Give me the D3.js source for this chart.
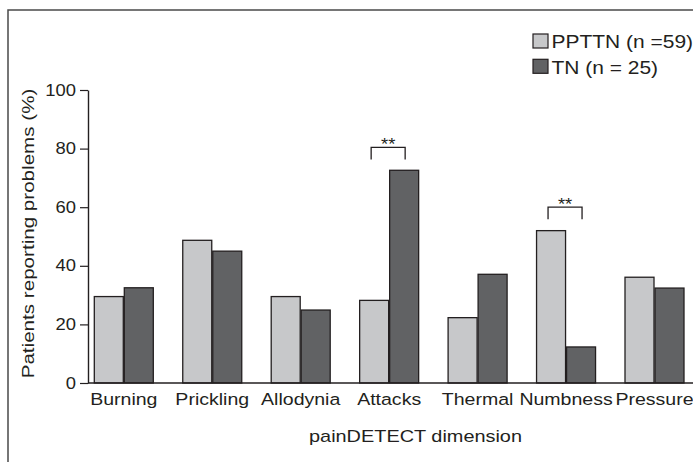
<!DOCTYPE html>
<html>
<head>
<meta charset="utf-8">
<script src="https://cdn.jsdelivr.net/npm/d3@7"></script>
<style>
  html, body { margin: 0; padding: 0; background: #fff; }
  svg { display: block; }
  text { font-family: "Liberation Sans", Arial, Helvetica, sans-serif; fill: #231f20; }
</style>
</head>
<body>
<svg id="chart" width="693" height="462"></svg>
<script>
const categories = ["Burning", "Prickling", "Allodynia", "Attacks", "Thermal", "Numbness", "Pressure"];
const seriesNames = ["PPTTN (n =59)", "TN (n = 25)"];
const ppttnValues = [29.5, 48.7, 29.5, 28.2, 22.3, 52.0, 36.1];
const tnValues = [32.5, 45.0, 24.9, 72.6, 37.1, 12.3, 32.4];
const yTicks = [0, 20, 40, 60, 80, 100];
const significance = [
  { category: "Attacks", level: 80.4, label: "**" },
  { category: "Numbness", level: 60, label: "**" }
];
const xTitle = "painDETECT dimension";
const yTitle = "Patients reporting problems (%)";
const colors = ["#c7c8ca", "#616264"];

const svg = d3.select("#chart");
const W = 693, H = 462;
const axisX = 88, baseY = 383, topY = 90;
const SX = 1.15;           // horizontal glyph stretch of the original lettering
const stretch = `scale(${SX},1)`;

// frame
svg.append("rect")
  .attr("x", 8).attr("y", 10)
  .attr("width", 720).attr("height", 480)
  .attr("fill", "none").attr("stroke", "#4a4a4a").attr("stroke-width", 1.5);

const x = d3.scaleBand()
  .domain(categories)
  .range([axisX, 690.3])
  .paddingInner(0.3217)
  .paddingOuter(0.0656)
  .align(0.5);

const xs = d3.scaleBand()
  .domain(seriesNames)
  .range([0, x.bandwidth()]);

const y = d3.scaleLinear().domain([0, 100]).range([baseY, topY]);

const data = categories.map((c, i) => ({ category: c, values: [ppttnValues[i], tnValues[i]] }));

// bars
const g = svg.append("g");
const groups = g.selectAll("g.grp").data(data).join("g")
  .attr("class", "grp")
  .attr("transform", d => `translate(${x(d.category)},0)`);

groups.selectAll("rect").data(d => d.values.map((v, k) => ({ v, k })))
  .join("rect")
  .attr("x", d => xs(seriesNames[d.k]) + 0.5)
  .attr("width", xs.bandwidth() - 1)
  .attr("y", d => y(d.v))
  .attr("height", d => y(0) - y(d.v))
  .attr("fill", d => colors[d.k])
  .attr("stroke", "#231f20")
  .attr("stroke-width", 1.3);

// y axis
const TL = 8, TP = 4;
const yAxis = d3.axisLeft(y).tickValues(yTicks).tickSize(TL).tickSizeOuter(0).tickPadding(TP);
const yg = svg.append("g").attr("transform", `translate(${axisX},0)`).call(yAxis);
yg.attr("font-size", null).attr("font-family", null);
yg.select(".domain").attr("stroke", "#231f20").attr("stroke-width", 1.4);
yg.selectAll(".tick line").attr("stroke", "#231f20").attr("stroke-width", 1.2);
yg.selectAll(".tick text")
  .style("font-size", "16px")
  .attr("fill", "#231f20")
  .attr("x", -(TL + TP) / SX)
  .attr("transform", stretch);

// x axis
const xAxis = d3.axisBottom(x).tickSize(0).tickPadding(10);
const xg = svg.append("g").attr("transform", `translate(0,${baseY})`).call(xAxis);
xg.attr("font-size", null).attr("font-family", null);
xg.select(".domain").remove();
xg.selectAll(".tick text")
  .style("font-size", "17px")
  .attr("fill", "#231f20")
  .attr("dy", "0.71em")
  .attr("transform", stretch);
svg.append("line")
  .attr("x1", axisX).attr("x2", W)
  .attr("y1", baseY).attr("y2", baseY)
  .attr("stroke", "#231f20").attr("stroke-width", 1.5);

// axis titles
svg.append("text")
  .attr("transform", `translate(415.5,441.5) scale(1.17,1)`)
  .attr("text-anchor", "middle")
  .style("font-size", "17px")
  .text(xTitle);

svg.append("text")
  .attr("transform", `translate(33.5,233.5) rotate(-90) scale(1.25,1)`)
  .attr("text-anchor", "middle")
  .style("font-size", "16.5px")
  .text(yTitle);

// significance brackets
const sig = svg.append("g");
significance.forEach(s => {
  const cx = x(s.category) + x.bandwidth() / 2 - 1;
  const yy = y(s.level);
  sig.append("path")
    .attr("d", `M${cx - 17},${yy + 12}V${yy}H${cx + 17}V${yy + 12}`)
    .attr("fill", "none").attr("stroke", "#231f20").attr("stroke-width", 1.3);
  sig.append("text")
    .attr("transform", `translate(${cx},${yy + 3}) ${stretch}`)
    .attr("text-anchor", "middle")
    .style("font-size", "16px")
    .text(s.label);
});

// legend
const leg = svg.append("g");
seriesNames.forEach((name, i) => {
  const ly = 34 + i * 25.3;
  leg.append("rect")
    .attr("x", 533).attr("y", ly)
    .attr("width", 15).attr("height", 14)
    .attr("fill", colors[i]).attr("stroke", "#231f20").attr("stroke-width", 1.2);
  leg.append("text")
    .attr("transform", `translate(551.5,${ly + 14.3}) scale(1.165,1)`)
    .style("font-size", "18px")
    .text(name);
});
</script>
</body>
</html>
